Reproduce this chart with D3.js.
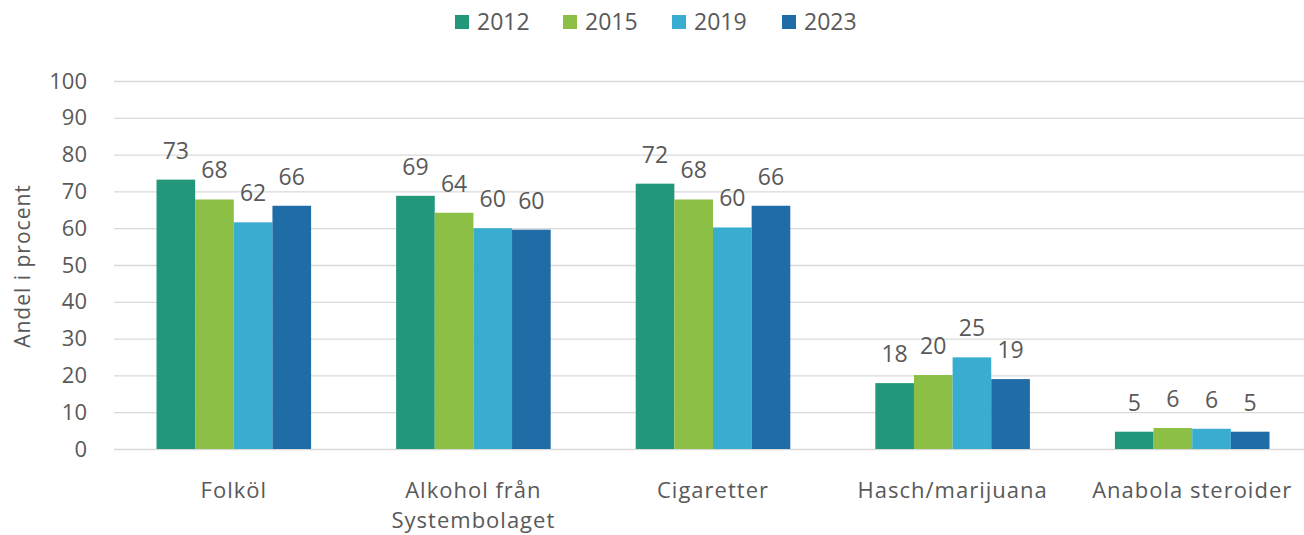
<!DOCTYPE html>
<html>
<head>
<meta charset="utf-8">
<script src="https://cdn.jsdelivr.net/npm/d3@7"></script>
<style>
  body { margin: 0; background: #fff; }
  text { font-family: "Open Sans", Lato, sans-serif; fill: #595959; }
</style>
</head>
<body>
<svg width="1304" height="535"></svg>
<script>
const svg = d3.select('svg');
const width = +svg.attr('width');
const height = +svg.attr('height');

// data
const categories = ['Folköl', 'Alkohol från\nSystembolaget', 'Cigaretter', 'Hasch/marijuana', 'Anabola steroider'];
const years = ['2012', '2015', '2019', '2023'];
const v2012 = [73.2, 68.8, 72.1, 17.9, 4.7];
const v2015 = [67.8, 64.2, 67.8, 20.1, 5.7];
const v2019 = [61.6, 60.0, 60.2, 24.9, 5.5];
const v2023 = [66.1, 59.6, 66.1, 19.0, 4.7];
const yTicks = [0, 10, 20, 30, 40, 50, 60, 70, 80, 90, 100];
const colors = ['#22977a', '#8cbf45', '#38adcf', '#1f6ca6'];

const series = [v2012, v2015, v2019, v2023];

const margin = {left: 114, right: -8, top: 81};
const plotBottom = 449;

const x0 = d3.scaleBand()
    .domain(categories)
    .range([margin.left, width - margin.right])
    .paddingInner(0)
    .paddingOuter(0);

const x1 = d3.scaleBand()
    .domain(years)
    .range([0, x0.bandwidth()])
    .paddingOuter(1.1)
    .paddingInner(0);

const y = d3.scaleLinear()
    .domain([0, 100])
    .range([plotBottom, margin.top]);

///////////////// grid
svg.append('g')
    .selectAll('line')
    .data(yTicks)
    .enter()
    .append('line')
    .attr('x1', margin.left)
    .attr('x2', width)
    .attr('y1', d => y(d) + 0.5)
    .attr('y2', d => y(d) + 0.5)
    .attr('stroke', '#d9d9d9')
    .attr('stroke-width', 1.3);

// y axis labels
const yAxis = d3.axisLeft(y).tickValues(yTicks).tickSize(0).tickPadding(0);
const yg = svg.append('g')
    .attr('transform', `translate(87,0)`)
    .call(yAxis);
yg.select('.domain').remove();
yg.selectAll('text')
    .style('font-size', '22px')
    .style('font-family', '"Open Sans", sans-serif')
    .attr('fill', '#595959');

svg.append('text')
    .attr('transform', `translate(30,266) rotate(-90)`)
    .attr('text-anchor', 'middle')
    .style('font-size', '21px')
    .style('letter-spacing', '1px')
    .text('Andel i procent');

///////////////// bars
const groups = svg.append('g')
    .selectAll('g')
    .data(categories)
    .enter()
    .append('g')
    .attr('transform', d => `translate(${x0(d)},0)`);

groups.selectAll('rect')
    .data((d, i) => years.map((yr, j) => ({yr, v: series[j][i], c: colors[j]})))
    .enter()
    .append('rect')
    .attr('x', d => x1(d.yr))
    .attr('width', x1.bandwidth())
    .attr('y', d => y(d.v))
    .attr('height', d => y(0) - y(d.v))
    .attr('fill', d => d.c);

groups.selectAll('text.lbl')
    .data((d, i) => years.map((yr, j) => ({yr, v: series[j][i]})))
    .enter()
    .append('text')
    .attr('class', 'lbl')
    .attr('x', d => x1(d.yr) + x1.bandwidth() / 2)
    .attr('y', d => y(d.v) - 21)
    .attr('text-anchor', 'middle')
    .style('font-size', '23px')
    .text(d => Math.round(d.v));

// category labels
const catLabels = svg.append('g')
    .selectAll('text')
    .data(categories)
    .enter()
    .append('text')
    .attr('x', d => x0(d) + x0.bandwidth() / 2)
    .attr('y', 498)
    .attr('text-anchor', 'middle')
    .style('font-size', '22px')
    .style('letter-spacing', '1px');

catLabels.selectAll('tspan')
    .data(d => d.split('\n'))
    .enter()
    .append('tspan')
    .attr('x', function() { return d3.select(this.parentNode).attr('x'); })
    .attr('dy', (d, i) => i === 0 ? 0 : 30)
    .text(d => d);

///////////////// legend
const legendX = [455, 563, 672, 782];
const legend = svg.append('g')
    .selectAll('g')
    .data(years)
    .enter()
    .append('g')
    .attr('transform', (d, i) => `translate(${legendX[i]},15)`);

legend.append('rect')
    .attr('width', 14)
    .attr('height', 14)
    .attr('fill', (d, i) => colors[i]);

legend.append('text')
    .attr('x', 22)
    .attr('y', 15)
    .style('font-size', '23px')
    .text(d => d);
</script>
</body>
</html>
